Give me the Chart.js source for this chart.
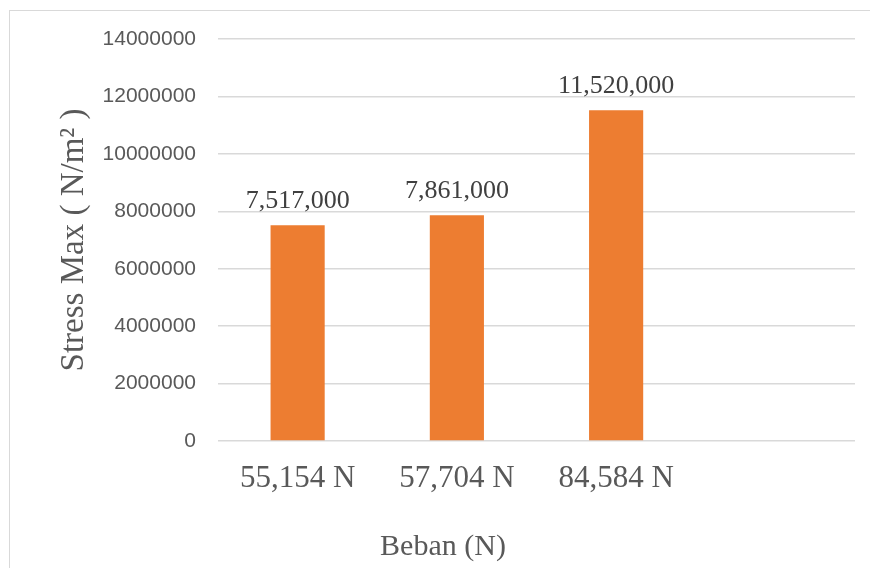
<!DOCTYPE html>
<html>
<head>
<meta charset="utf-8">
<script src="https://cdn.jsdelivr.net/npm/chart.js@4/dist/chart.umd.min.js"></script>
<style>
  html, body { margin: 0; padding: 0; background: #fff; overflow: hidden; }
  #frame { position: absolute; left: 9px; top: 10px; width: 900px; height: 600px; border: 1px solid #d9d9d9; }
  #stressChart { position: absolute; left: 0; top: 0; }
</style>
</head>
<body>
<div id="frame"></div>
<canvas id="stressChart" width="870" height="568"></canvas>
<script>
// load cases (last slot left empty) and max stress in N/m2
let beban = ['55,154 N', '57,704 N', '84,584 N', '']
let stressMax = [7517000, 7861000, 11520000, null]
let yMin = 0
let yMax = 14000000
let yStep = 2000000

// writes the value above each bar, e.g. 7,517,000
let valueLabels = {
  id: 'valueLabels',
  afterDatasetsDraw(chart) {
    let ctx = chart.ctx
    let meta = chart.getDatasetMeta(0)
    ctx.save()
    ctx.font = '26px "Liberation Serif", "Times New Roman", serif'
    ctx.fillStyle = '#404040'
    ctx.textAlign = 'center'
    ctx.textBaseline = 'alphabetic'
    meta.data.forEach((bar, i) => {
      let v = stressMax[i]
      if (v == null) return
      ctx.fillText(v.toLocaleString('en-US'), bar.x, bar.y - 17)
    })
    ctx.restore()
  }
}

let stressChart = document.getElementById('stressChart').getContext('2d')
let chart = new Chart(stressChart, {
  type: 'bar',
  data: {
    labels: beban,
    datasets: [{
      label: 'Stress Max',
      data: stressMax,
      backgroundColor: '#ED7D31',
      barPercentage: 0.34,
      categoryPercentage: 1
    }]
  },
  options: {
    responsive: false,
    animation: false,
    layout: { padding: { left: 31, right: 15, top: 39, bottom: 0 } },
    plugins: {
      legend: { display: false },
      tooltip: { enabled: false },
      title: {
        display: true,
        position: 'bottom',
        text: 'Beban (N)',
        color: '#595959',
        font: { family: '"Liberation Serif", "Times New Roman", serif', size: 30, weight: 'normal' },
        padding: { top: 28, bottom: 3 }
      }
    },
    scales: {
      x: {
        grid: { display: false, drawTicks: false },
        border: { display: false },
        ticks: {
          color: '#595959',
          padding: 19,
          maxRotation: 0,
          font: { family: '"Liberation Serif", "Times New Roman", serif', size: 31 }
        },
        afterFit: s => { s.height = 60 }
      },
      y: {
        min: yMin,
        max: yMax,
        grid: { color: '#d9d9d9', lineWidth: 1.5, drawTicks: false },
        border: { display: false },
        ticks: {
          stepSize: yStep,
          color: '#595959',
          padding: 22,
          font: { family: '"Liberation Sans", Arial, sans-serif', size: 21 },
          callback: v => String(v)
        },
        title: {
          display: true,
          text: 'Stress Max ( N/m\u00B2 )',
          color: '#595959',
          font: { family: '"Liberation Serif", "Times New Roman", serif', size: 33 },
          padding: { top: 24, bottom: 0 }
        },
        afterFit: s => { s.width = 187 }
      }
    }
  },
  plugins: [valueLabels]
})
</script>
</body>
</html>
